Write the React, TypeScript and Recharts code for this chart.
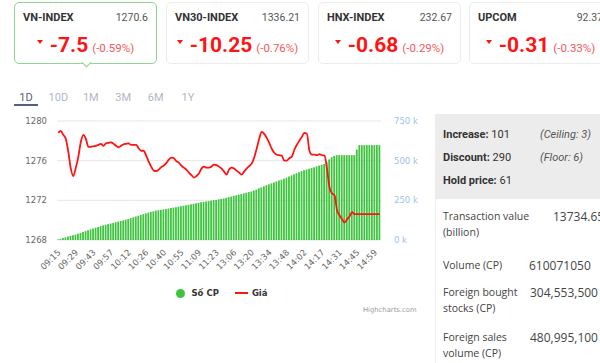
import React from "react";
import {
  ComposedChart,
  Bar,
  Line,
  XAxis,
  YAxis,
  CartesianGrid,
  Legend,
} from "recharts";

// index cards
const indexNames = ["VN-INDEX", "VN30-INDEX", "HNX-INDEX", "UPCOM"];
const indexLevels = ["1270.6", "1336.21", "232.67", "92.37"];
const indexChanges = ["-7.5", "-10.25", "-0.68", "-0.31"];
const indexPercents = ["(-0.59%)", "(-0.76%)", "(-0.29%)", "(-0.33%)"];

const periods = ["1D", "10D", "1M", "3M", "6M", "1Y"];

// x axis labels, one every 7 bars
const timeLabels = [
  "09:15", "09:29", "09:43", "09:57", "10:12", "10:26", "10:40", "10:55", "11:09", "11:23",
  "13:06", "13:20", "13:34", "13:48", "14:02", "14:17", "14:31", "14:45", "14:59",
];

// Số CP (cumulative volume, thousands)
const volumeK = [
  3, 7, 12, 17, 22, 26, 30, 34, 39, 44,
  50, 56, 62, 67, 72, 77, 82, 87, 92, 96,
  100, 104, 108, 112, 116, 120, 124, 128, 132, 138,
  143, 148, 153, 158, 163, 168, 172, 177, 181, 185,
  188, 190, 193, 195, 198, 201, 204, 207, 210, 213,
  216, 219, 222, 225, 228, 231, 234, 238, 240, 243,
  245, 248, 251, 253, 256, 259, 262, 266, 270, 273,
  278, 282, 286, 290, 294, 298, 302, 306, 312, 318,
  326, 332, 338, 345, 351, 357, 363, 369, 375, 380,
  386, 393, 400, 407, 414, 421, 427, 434, 439, 444,
  449, 454, 459, 464, 469, 474, 479, 492, 508, 522,
  530, 535, 535, 535, 535, 535, 535, 535, 535, 570,
  598, 598, 598, 598, 598, 598, 598, 598, 598,
];

// Giá (index level)
const price = [
  1278.8, 1279.0, 1278.6, 1278.2, 1276.9, 1275.2, 1274.45, 1275.3, 1276.4, 1277.9,
  1278.6, 1278.2, 1277.4, 1277.4, 1277.45, 1277.5, 1277.6, 1277.7, 1277.5, 1277.75,
  1277.8, 1277.85, 1277.7, 1277.5, 1277.35, 1277.5, 1277.65, 1277.7, 1277.75, 1277.6,
  1277.6, 1277.6, 1277.25, 1277.0, 1277.0, 1276.5, 1275.9, 1275.4, 1275.0, 1274.95,
  1275.1, 1275.35, 1275.5, 1275.75, 1276.1, 1276.3, 1276.25, 1275.95, 1275.8, 1275.5,
  1275.3, 1275.1, 1274.8, 1274.55, 1274.3, 1274.45, 1274.7, 1275.2, 1275.4, 1275.3,
  1275.3, 1275.4, 1275.6, 1275.55, 1275.4, 1275.2, 1274.9, 1274.6, 1275.1, 1275.3,
  1275.2, 1275.0, 1274.8, 1274.6, 1274.9, 1275.2, 1275.45, 1275.7, 1276.3, 1277.2,
  1278.2, 1278.9, 1278.7, 1278.3, 1277.8, 1277.2, 1276.8, 1276.6, 1276.55, 1276.5,
  1276.0, 1276.0, 1276.25, 1276.4, 1277.1, 1277.6, 1278.0, 1278.4, 1278.8, 1278.7,
  1277.0, 1276.6, 1276.6, 1276.55, 1276.65, 1276.55, 1276.5, 1275.2, 1273.3, 1272.7,
  1272.5, 1271.0, 1270.5, 1270.1, 1269.75, 1270.1, 1270.4, 1270.8, 1270.6, 1270.6,
  1270.6, 1270.6, 1270.6, 1270.6, 1270.6, 1270.6, 1270.6, 1270.6, 1270.6,
];

const priceTicks = [1268, 1272, 1276, 1280];
const volumeTicks = [0, 250, 500, 750];

const breadth = [
  { label: "Increase:", value: "101", note: "(Ceiling: 3)" },
  { label: "Discount:", value: "290", note: "(Floor: 6)" },
  { label: "Hold price:", value: "61", note: "" },
];

const stats = [
  { lines: ["Transaction value", "(billion)"], value: "13734.65", top: 209, valueX: 553 },
  { lines: ["Volume (CP)"], value: "610071050", top: 258, valueX: 529 },
  { lines: ["Foreign bought", "stocks (CP)"], value: "304,553,500", top: 285, valueX: 530 },
  { lines: ["Foreign sales", "volume (CP)"], value: "480,995,100", top: 330, valueX: 530 },
];

const data = price.map((p, i) => ({ idx: i, price: p, volume: volumeK[i] }));

const CHART_FONT = "'DejaVu Sans', sans-serif";
const GREEN = "#3fc43f";
const RED = "#ff1414";

function TimeTick({ x, y, payload }: any) {
  const label = timeLabels[payload.value / 7];
  if (!label) return null;
  const ax = x + 3;
  const ay = y + 13;
  return (
    <text
      x={ax}
      y={ay}
      transform={`rotate(-45 ${ax} ${ay})`}
      textAnchor="end"
      fontSize={8.5}
      fontFamily={CHART_FONT}
      fill="#666"
    >
      {label}
    </text>
  );
}

function ChartLegend() {
  return (
    <div
      style={{
        display: "flex",
        justifyContent: "center",
        alignItems: "center",
        height: 24,
        paddingLeft: 14,
        fontFamily: CHART_FONT,
        fontSize: 8.5,
        fontWeight: "bold",
        color: "#333",
      }}
    >
      <span style={{ width: 9, height: 9, borderRadius: "50%", background: GREEN, marginRight: 6 }} />
      <span style={{ marginRight: 16 }}>Số CP</span>
      <span style={{ width: 13, height: 2, background: RED, marginRight: 4 }} />
      <span>Giá</span>
    </div>
  );
}

function IndexCard({ i }: { i: number }) {
  const left = [14, 166, 318, 469][i];
  const active = i === 0;
  return (
    <div
      style={{
        position: "absolute",
        left,
        top: 2,
        width: 143,
        height: 62,
        boxSizing: "border-box",
        border: `1px solid ${active ? "#8fd48f" : "#ececec"}`,
        borderRadius: 5,
        background: "#fff",
        fontFamily: "Roboto, sans-serif",
      }}
    >
      <div style={{ position: "absolute", left: 8, top: 8, fontSize: 11, fontWeight: "bold", color: "#333", lineHeight: "14px" }}>
        {indexNames[i]}
      </div>
      <div style={{ position: "absolute", right: 8, top: 8, fontSize: 10.5, color: "#555", lineHeight: "14px" }}>
        {indexLevels[i]}
      </div>
      <div
        style={{
          position: "absolute",
          left: 0,
          right: 0,
          top: 30,
          height: 24,
          display: "flex",
          justifyContent: "center",
          alignItems: "baseline",
          lineHeight: "24px",
          whiteSpace: "nowrap",
        }}
      >
        <span
          style={{
            display: "inline-block",
            width: 0,
            height: 0,
            borderLeft: "3px solid transparent",
            borderRight: "3px solid transparent",
            borderTop: `4px solid ${RED}`,
            marginRight: 7,
            transform: "translateY(-8px)",
          }}
        />
        <span style={{ fontSize: 21, fontWeight: "bold", color: RED }}>{indexChanges[i]}</span>
        <span style={{ fontSize: 11.5, color: "#f25a5a", marginLeft: 4 }}>{indexPercents[i]}</span>
      </div>
      {active && (
        <div
          style={{
            position: "absolute",
            left: 68,
            top: 56,
            width: 6,
            height: 6,
            background: "#fff",
            borderRight: "1px solid #8fd48f",
            borderBottom: "1px solid #8fd48f",
            transform: "rotate(45deg)",
          }}
        />
      )}
    </div>
  );
}

export default function App() {
  return (
    <div
      style={{
        position: "absolute",
        left: 0,
        top: 0,
        width: 600,
        height: 363,
        overflow: "hidden",
        background: "#fff",
        fontFamily: "Roboto, sans-serif",
      }}
    >
      {indexNames.map((_, i) => (
        <IndexCard key={i} i={i} />
      ))}

      {periods.map((p, i) => (
        <div
          key={p}
          style={{
            position: "absolute",
            left: 26 + i * 32.4,
            top: 91,
            transform: "translateX(-50%)",
            fontSize: 11,
            lineHeight: "14px",
            color: i === 0 ? "#55627d" : "#aeb7c7",
          }}
        >
          {p}
        </div>
      ))}
      <div style={{ position: "absolute", left: 14, top: 104, width: 24, height: 2, background: "#55627d" }} />

      <div style={{ position: "absolute", left: 0, top: 110 }}>
        <ComposedChart
          width={430}
          height={205}
          data={data}
          margin={{ top: 11, right: 0, bottom: 10, left: 0 }}
          barCategoryGap={0}
        >
          <CartesianGrid yAxisId="price" vertical={false} stroke="#e6e6e6" />
          <XAxis
            dataKey="idx"
            interval={6}
            height={41}
            axisLine={false}
            tickLine={false}
            tickSize={0}
            tickMargin={0}
            tick={<TimeTick />}
          />
          <YAxis
            yAxisId="price"
            orientation="left"
            domain={[1268, 1280]}
            ticks={priceTicks}
            width={57}
            axisLine={false}
            tickLine={false}
            tickMargin={4}
            tick={{ fontSize: 8.5, fill: "#666", fontFamily: CHART_FONT }}
          />
          <YAxis
            yAxisId="vol"
            orientation="right"
            domain={[0, 750]}
            ticks={volumeTicks}
            width={49}
            axisLine={false}
            tickLine={false}
            tickMargin={7}
            tickFormatter={(v) => `${v} k`}
            tick={{ fontSize: 8.5, fill: "#9dc2f2", fontFamily: CHART_FONT }}
          />
          <Legend verticalAlign="bottom" height={24} content={<ChartLegend />} />
          <Bar yAxisId="vol" dataKey="volume" name="Số CP" fill={GREEN} barSize={1.8} isAnimationActive={false} />
          <Line
            yAxisId="price"
            dataKey="price"
            name="Giá"
            type="monotone"
            stroke={RED}
            strokeWidth={1.8}
            dot={false}
            isAnimationActive={false}
          />
        </ComposedChart>
      </div>

      <div
        style={{
          position: "absolute",
          left: 363,
          top: 306,
          fontFamily: CHART_FONT,
          fontSize: 6.8,
          color: "#999",
        }}
      >
        Highcharts.com
      </div>

      <div style={{ position: "absolute", left: 435, top: 114, width: 165, height: 85, background: "#ececec" }}>
        {breadth.map((b, i) => (
          <div
            key={b.label}
            style={{ position: "absolute", left: 8, top: 14 + i * 23, fontSize: 11, lineHeight: "14px", color: "#333", whiteSpace: "nowrap" }}
          >
            <b>{b.label}</b> {b.value}
          </div>
        ))}
        {breadth.map((b, i) =>
          b.note ? (
            <div
              key={b.note}
              style={{ position: "absolute", left: 105, top: 14 + i * 23, fontSize: 11, lineHeight: "14px", fontStyle: "italic", color: "#555" }}
            >
              {b.note}
            </div>
          ) : null
        )}
      </div>

      <div style={{ position: "absolute", left: 435, top: 199, width: 165, height: 164, borderLeft: "1px solid #f0f0f0" }} />
      {stats.map((s) => (
        <React.Fragment key={s.value}>
          {s.lines.map((l, j) => (
            <div
              key={l}
              style={{
                position: "absolute",
                left: 443,
                top: s.top + j * 15.5,
                fontFamily: "'Open Sans', sans-serif",
                fontSize: 10.5,
                lineHeight: "15px",
                color: "#444",
                whiteSpace: "nowrap",
              }}
            >
              {l}
            </div>
          ))}
          <div
            style={{
              position: "absolute",
              left: s.valueX,
              top: s.top,
              fontFamily: "'Open Sans', sans-serif",
              fontSize: 12,
              lineHeight: "15px",
              color: "#444",
              whiteSpace: "nowrap",
            }}
          >
            {s.value}
          </div>
        </React.Fragment>
      ))}
    </div>
  );
}
